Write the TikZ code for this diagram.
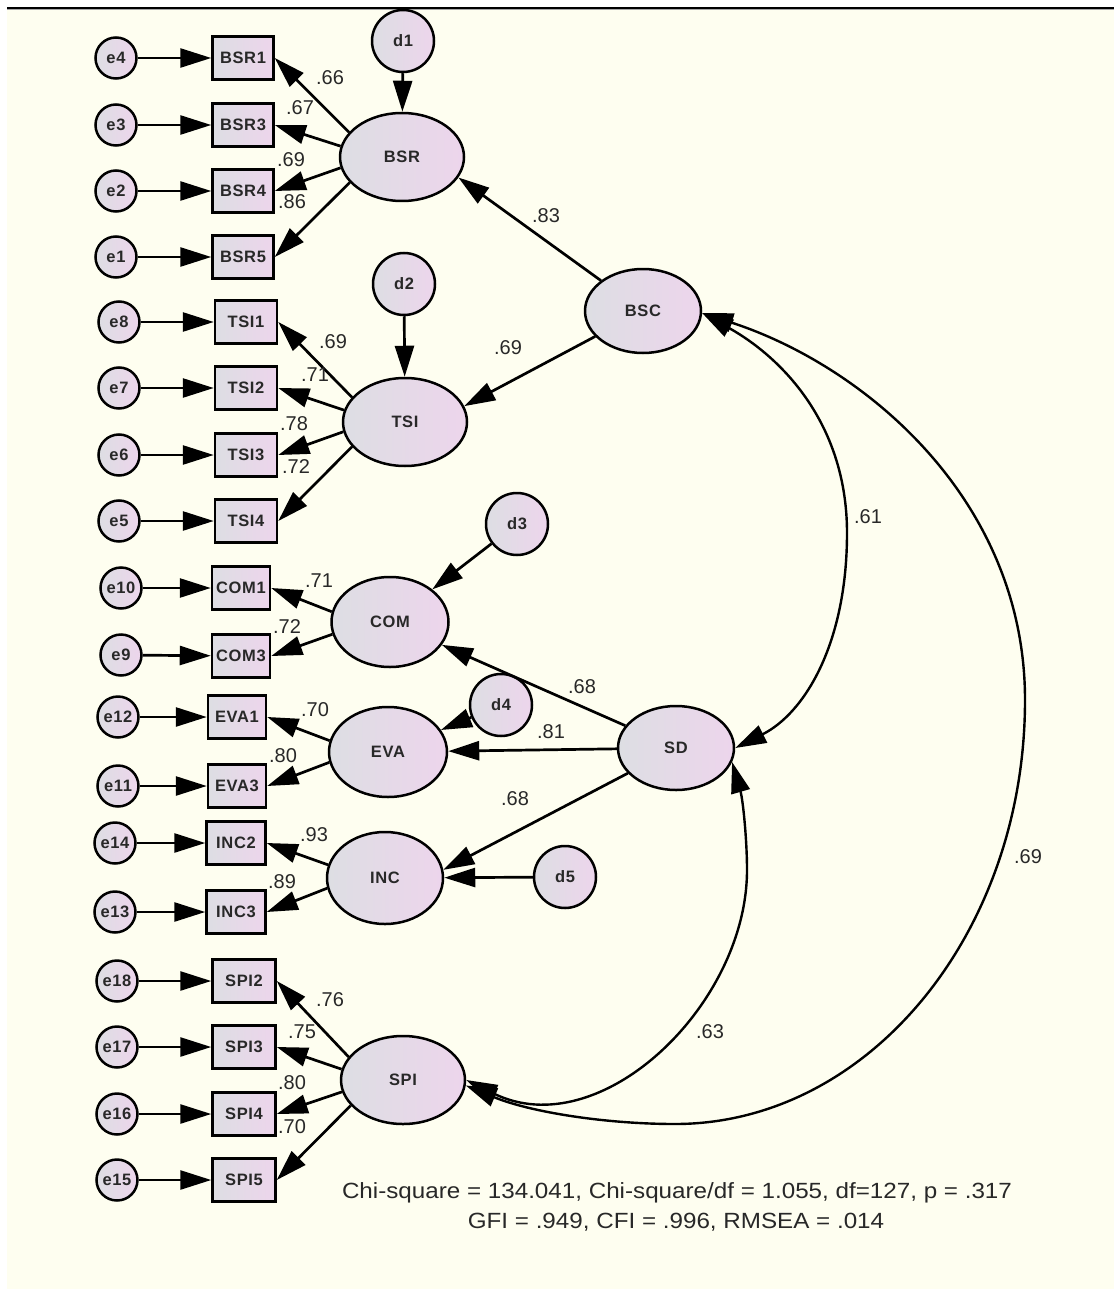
\documentclass[tikz,border=0pt]{standalone}
\usepackage{fontspec}
\usepackage{graphicx}
\setmainfont{Liberation Sans}
\newfontfamily\varfont[LetterSpace=4]{Liberation Sans}
\usetikzlibrary{shapes.geometric,arrows.meta}
\definecolor{paper}{RGB}{254,254,240}
\definecolor{shadeL}{RGB}{221,222,227}
\definecolor{shadeR}{RGB}{237,213,236}
\definecolor{ink}{RGB}{40,40,40}
\begin{document}
\begin{tikzpicture}[x=1pt,y=-1pt,
  tip/.style={-{Triangle[length=31pt,width=19pt]}},
  link/.style={line width=2.7pt, tip},
  cov/.style={line width=2.4pt, {Triangle[length=31pt,width=19pt]}-{Triangle[length=31pt,width=19pt]}},
  var/.style={draw, line width=2.5pt, left color=shadeL, right color=shadeR,
    font=\varfont\bfseries\fontsize{16.5}{19}\selectfont, text=ink, inner sep=0pt},
  obs/.style={var, rectangle, minimum height=43pt, minimum width=60pt},
  err/.style={var, circle, minimum size=41pt},
  dist/.style={var, circle, minimum size=62pt},
  lat/.style={var, ellipse, minimum width=124pt, minimum height=88pt},
  coef/.style={font=\fontsize{20}{24}\selectfont, text=ink, inner sep=0pt},
  fit/.style={font=\fontsize{22}{29}\selectfont, text=ink, inner sep=0pt, align=center},
]
% canvas
\useasboundingbox (0,0) rectangle (1114,1289);
\fill[white] (0,0) rectangle (1114,1289);
\fill[paper] (7,9) rectangle (1114,1289);
\draw[line width=2.4pt] (7,7.8) -- (1114,7.8);
\draw[line width=1pt, black!35] (7,9.8) -- (1114,9.8);

% ---------- BSR ----------
\node[err] (e4) at (116,58) {e4};
\node[err] (e3) at (116,125) {e3};
\node[err] (e2) at (116,191) {e2};
\node[err] (e1) at (116,257) {e1};
\node[obs, minimum width=61pt] (BSR1) at (243,58) {BSR1};
\node[obs, minimum width=61pt] (BSR3) at (243,125) {BSR3};
\node[obs, minimum width=61pt] (BSR4) at (243,191) {BSR4};
\node[obs, minimum width=61pt] (BSR5) at (243,257) {BSR5};
\node[lat] (BSR) at (402,157) {BSR};
\node[dist] (d1) at (403,41) {d1};

% ---------- TSI ----------
\node[err] (e8) at (119,322) {e8};
\node[err] (e7) at (119,388) {e7};
\node[err] (e6) at (119,455) {e6};
\node[err] (e5) at (119,521) {e5};
\node[obs, minimum width=62pt] (TSI1) at (246,322) {TSI1};
\node[obs, minimum width=62pt] (TSI2) at (246,388) {TSI2};
\node[obs, minimum width=62pt] (TSI3) at (246,455) {TSI3};
\node[obs, minimum width=62pt] (TSI4) at (246,521) {TSI4};
\node[lat] (TSI) at (405,422) {TSI};
\node[dist] (d2) at (404,284) {d2};

% ---------- BSC ----------
\node[lat, minimum width=116pt, minimum height=84pt] (BSC) at (643,311) {BSC};

% ---------- COM ----------
\node[err] (e10) at (121,588) {e10};
\node[err] (e9) at (121,655) {e9};
\node[obs, minimum width=58pt] (COM1) at (241,588) {COM1};
\node[obs, minimum width=58pt] (COM3) at (241,656) {COM3};
\node[lat, minimum width=117pt, minimum height=90pt] (COM) at (390,622) {COM};
\node[dist] (d3) at (517,524) {d3};

% ---------- EVA ----------
\node[err] (e12) at (118,717) {e12};
\node[err] (e11) at (118,786) {e11};
\node[obs, minimum width=58pt] (EVA1) at (237,717) {EVA1};
\node[obs, minimum width=58pt] (EVA3) at (237,786) {EVA3};
\node[lat, minimum width=118pt, minimum height=90pt] (EVA) at (388,752) {EVA};
\node[dist] (d4) at (501,705) {d4};

% ---------- SD ----------
\node[lat, minimum width=116pt, minimum height=84pt] (SD) at (676,748) {SD};

% ---------- INC ----------
\node[err] (e14) at (115,843) {e14};
\node[err] (e13) at (115,912) {e13};
\node[obs, minimum width=59pt] (INC2) at (236,843) {INC2};
\node[obs, minimum width=59pt] (INC3) at (236,912) {INC3};
\node[lat, minimum width=116pt, minimum height=92pt] (INC) at (385,878) {INC};
\node[dist] (d5) at (565,877) {d5};

% ---------- SPI ----------
\node[err] (e18) at (117,981) {e18};
\node[err] (e17) at (117,1047) {e17};
\node[err] (e16) at (117,1114) {e16};
\node[err] (e15) at (117,1180) {e15};
\node[obs, minimum width=63pt] (SPI2) at (244,981) {SPI2};
\node[obs, minimum width=63pt] (SPI3) at (244,1047) {SPI3};
\node[obs, minimum width=63pt] (SPI4) at (244,1114) {SPI4};
\node[obs, minimum width=63pt] (SPI5) at (244,1180) {SPI5};
\node[lat] (SPI) at (403,1080) {SPI};

% ---------- error terms ----------
\foreach \e/\v in {e4/BSR1,e3/BSR3,e2/BSR4,e1/BSR5,e8/TSI1,e7/TSI2,e6/TSI3,e5/TSI4,
  e10/COM1,e9/COM3,e12/EVA1,e11/EVA3,e14/INC2,e13/INC3,e18/SPI2,e17/SPI3,e16/SPI4,e15/SPI5}
  \draw[link] (\e) -- (\v);

% ---------- loadings ----------
\draw[link] (BSR.155) -- (BSR1.east);
\draw[link] (BSR.170) -- (BSR3.east);
\draw[link] (BSR.190) -- (BSR4.east);
\draw[link] (BSR.206) -- (BSR5.east);
\draw[link] (TSI.155) -- (TSI1.east);
\draw[link] (TSI.169) -- (TSI2.east);
\draw[link] (TSI.189) -- (TSI3.east);
\draw[link] (TSI.205) -- (TSI4.east);
\draw[link] (COM.170) -- (COM1.east);
\draw[link] (COM.192) -- (COM3.east);
\draw[link] (EVA.169) -- (EVA1.east);
\draw[link] (EVA.190) -- (EVA3.east);
\draw[link] (INC.167) -- (INC2.east);
\draw[link] (INC.190) -- (INC3.east);
\draw[link] (SPI.157) -- (SPI2.east);
\draw[link] (SPI.170) -- (SPI3.east);
\draw[link] (SPI.191) -- (SPI4.east);
\draw[link] (SPI.206) -- (SPI5.east);

% ---------- disturbances ----------
\draw[link] (d1) -- (BSR);
\draw[link] (d2) -- (TSI);
\draw[link] (d3) -- (COM);
\draw[link] (d4) -- (EVA);
\draw[link] (d5) -- (INC);

% ---------- structural paths ----------
\draw[link] (BSC) -- (BSR.-20);
\draw[link] (BSC) -- (TSI.15);
\draw[link] (SD) -- (COM);
\draw[link] (SD) -- (EVA);
\draw[link] (SD) -- (INC.8);

% ---------- covariances ----------
\draw[cov] (BSC.-2) .. controls (781,357) and (847,423) .. (847,533)
  .. controls (847,643) and (805,713) .. (SD.0);
\draw[cov] (SD.-14) .. controls (743,800) and (747,840) .. (747,870)
  .. controls (747,1005) and (600,1146) .. (SPI.0);
\draw[cov] (BSC.-2) .. controls (865,366) and (1025,500) .. (1025,700)
  .. controls (1025,934) and (868,1124) .. (675,1124)
  .. controls (605,1124) and (530,1112) .. (SPI.-5);

% ---------- coefficients ----------
\node[coef] (l1) at (330,78) {.66};
\node[coef] (l2) at (300,108) {.67};
\node[coef] (l3) at (291,160) {.69};
\node[coef] (l4) at (292,202) {.86};
\node[coef] (l5) at (333,342) {.69};
\node[coef] (l6) at (315,375) {.71};
\node[coef] (l7) at (294,424) {.78};
\node[coef] (l8) at (296,467) {.72};
\node[coef] (l9) at (319,581) {.71};
\node[coef] (l10) at (287,627) {.72};
\node[coef] (l11) at (315,710) {.70};
\node[coef] (l12) at (283,756) {.80};
\node[coef] (l13) at (314,835) {.93};
\node[coef] (l14) at (282,882) {.89};
\node[coef] (l15) at (330,1000) {.76};
\node[coef] (l16) at (302,1032) {.75};
\node[coef] (l17) at (292,1083) {.80};
\node[coef] (l18) at (292,1127) {.70};
\node[coef] (l19) at (546,216) {.83};
\node[coef] (l20) at (508,348) {.69};
\node[coef] (l21) at (582,687) {.68};
\node[coef] (l22) at (551,732) {.81};
\node[coef] (l23) at (515,799) {.68};
\node[coef] (l24) at (868,517) {.61};
\node[coef] (l25) at (710,1032) {.63};
\node[coef] (l26) at (1028,857) {.69};

% ---------- fit indices ----------
\node[fit] (fitA) at (677,1193) {\scalebox{1.1}[1]{Chi-square = 134.041, Chi-square/df = 1.055, df=127, p = .317}};
\node[fit] (fitB) at (676,1222) {\scalebox{1.1}[1]{GFI = .949, CFI = .996, RMSEA = .014}};
\end{tikzpicture}
\end{document}
